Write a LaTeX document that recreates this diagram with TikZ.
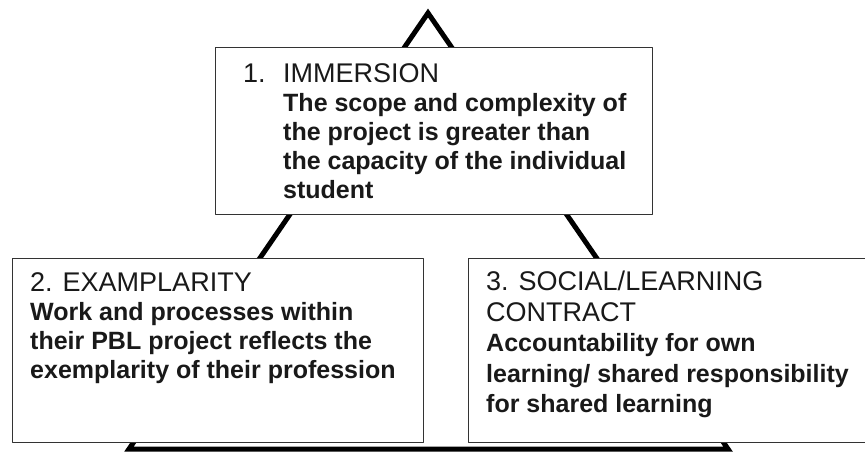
\documentclass[tikz,border=0pt]{standalone}
\usepackage{fontspec}
\setmainfont{Liberation Sans}
\begin{document}
\begin{tikzpicture}[line cap=round, line join=round, x=1pt, y=-1pt,
  box/.style={draw=black!80, line width=1.3pt, fill=white, rectangle, anchor=north west, inner sep=0pt},
  txt/.style={anchor=north west, inner sep=0pt, align=left, text=black!90,
    font=\fontsize{25}{29}\selectfont\bfseries},
  ttl/.style={font=\fontsize{27}{29}\selectfont\mdseries}]
	\useasboundingbox (0,0) rectangle (865,453);
	% triangle behind the boxes
	\coordinate (apex) at (428,13);
	\coordinate (bl) at (129,449);
	\coordinate (br) at (728,449);
	\draw[line width=5pt, line join=miter] (apex) -- (bl) -- (br) -- cycle;
	% the three boxes
	\node[box, minimum width=437, minimum height=167] (immersion) at (215,47) {};
	\node[box, minimum width=411, minimum height=184] (examplarity) at (12,258) {};
	\node[box, minimum width=410, minimum height=184] (contract) at (468,258) {};
	% texts
	\node[txt] (immersiontxt) at ([shift={(68,16)}]immersion.north west)
		{\llap{\makebox[40pt][l]{\fontsize{27}{29}\selectfont\mdseries 1.}}{\fontsize{27}{29}\selectfont\mdseries IMMERSION}\\
		 The scope and complexity of\\
		 the project is greater than\\
		 the capacity of the individual\\
		 student};
	\node[txt] (examplaritytxt) at ([shift={(18,14)}]examplarity.north west)
		{{\fontsize{27}{29}\selectfont\mdseries 2. EXAMPLARITY}\\
		 Work and processes within\\
		 their PBL project reflects the\\
		 exemplarity of their profession};
	\node[txt, font=\fontsize{25}{30.5}\selectfont\bfseries] (contracttxt) at ([shift={(18,13)}]contract.north west)
		{{\fontsize{27}{30.5}\selectfont\mdseries 3. SOCIAL/LEARNING}\\
		 {\fontsize{27}{30.5}\selectfont\mdseries CONTRACT}\\
		 Accountability for own\\
		 learning/ shared responsibility\\
		 for shared learning};
\end{tikzpicture}
\end{document}
